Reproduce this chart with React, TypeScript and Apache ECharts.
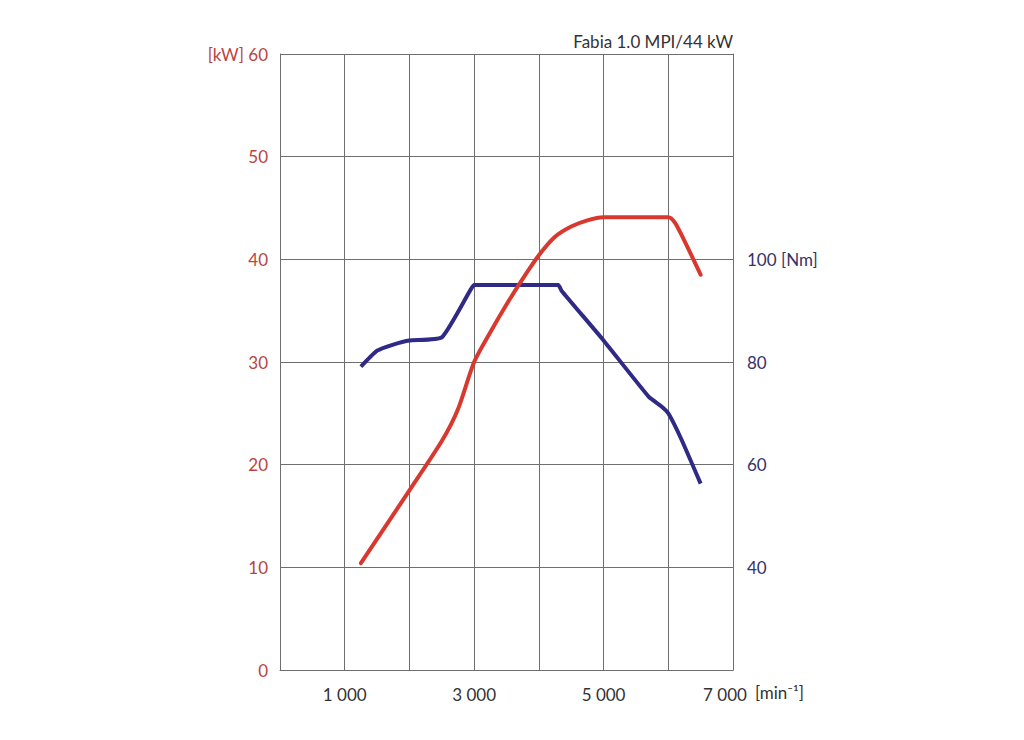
import React, { useEffect, useRef } from "react";
import * as echarts from "echarts";

const title = "Fabia 1.0 MPI/44 kW";
const xTicks = [1000, 3000, 5000, 7000];
const kwTicks = [0, 10, 20, 30, 40, 50, 60];
const nmTicks = [40, 60, 80, 100];

const powerRpm = [1250, 2000, 2500, 2750, 3000, 3250, 3500, 3750, 4000, 4250, 4500, 4750, 5000, 6000, 6100, 6250, 6500];
const powerKw = [10.4, 17.5, 22.3, 25.4, 30.0, 32.9, 35.6, 38.1, 40.4, 42.2, 43.2, 43.8, 44.1, 44.1, 43.6, 41.8, 38.5];

const torqueRpm = [1250, 1500, 1750, 2000, 2500, 2950, 3000, 4300, 4350, 5000, 5700, 5900, 6000, 6200, 6500];
const torqueNm = [79.1, 82.2, 83.4, 84.2, 84.8, 94.2, 95.0, 95.0, 93.9, 84.2, 73.2, 71.3, 70.0, 65.0, 56.3];

const RED = "#d8392f";
const BLUE = "#2f2a85";
const FONT = "Lato";

function fmtThousands(v: number): string {
  const s = String(v);
  return s.length > 3 ? s.slice(0, s.length - 3) + " " + s.slice(-3) : s;
}

export default function App() {
  const ref = useRef<HTMLDivElement>(null);
  useEffect(() => {
    if (!ref.current) return;
    const chart = echarts.init(ref.current, null, { renderer: "svg" });
    const gridColor = "#6e6e6e";
    chart.setOption({
      animation: false,
      backgroundColor: "#ffffff",
      textStyle: { fontFamily: FONT },
      title: {
        text: title,
        right: 291,
        top: 33,
        padding: 0,
        textStyle: { fontFamily: FONT, fontSize: 17, fontWeight: "normal", color: "#333333" },
      },
      grid: { left: 280, right: 291, top: 54, bottom: 70, containLabel: false },
      xAxis: {
        type: "value",
        min: 0,
        max: 7000,
        interval: 1000,
        axisLine: { show: true, lineStyle: { color: gridColor, width: 1 } },
        axisTick: { show: false },
        splitLine: { show: true, lineStyle: { color: gridColor, width: 1 } },
        axisLabel: {
          margin: 16,
          fontFamily: FONT,
          fontSize: 17,
          color: "#333333",
          formatter: (v: number) => {
            if (!xTicks.includes(v)) return "";
            if (v === 7000) return "{r|" + fmtThousands(v) + "}";
            return fmtThousands(v);
          },
          rich: {
            r: { fontFamily: FONT, fontSize: 17, color: "#333333", padding: [0, 16, 0, 0] },
          },
        },
      },
      yAxis: [
        {
          type: "value",
          min: 0,
          max: 60,
          interval: 10,
          position: "left",
          axisLine: { show: true, lineStyle: { color: gridColor, width: 1 } },
          axisTick: { show: false },
          splitLine: { show: true, lineStyle: { color: gridColor, width: 1 } },
          axisLabel: {
            margin: 12,
            fontFamily: FONT,
            fontSize: 17,
            color: "#b9453f",
            formatter: (v: number) => {
              if (!kwTicks.includes(v)) return "";
              return v === 60 ? "[kW] " + v : String(v);
            },
          },
        },
        {
          type: "value",
          min: 20,
          max: 140,
          interval: 20,
          position: "right",
          axisLine: { show: true, lineStyle: { color: gridColor, width: 1 } },
          axisTick: { show: false },
          splitLine: { show: false },
          axisLabel: {
            margin: 14,
            fontFamily: FONT,
            fontSize: 17,
            color: "#35336b",
            formatter: (v: number) => {
              if (!nmTicks.includes(v)) return "";
              return v === 100 ? v + " [Nm]" : String(v);
            },
          },
        },
      ],
      graphic: [
        {
          type: "text",
          left: 755,
          top: 684,
          style: { text: "[min⁻¹]", fontFamily: FONT, fontSize: 17, fill: "#333333" },
        },
      ],
      series: [
        {
          type: "line",
          name: "Power",
          yAxisIndex: 0,
          data: powerRpm.map((r, i) => [r, powerKw[i]]),
          showSymbol: false,
          smooth: 0.25,
          lineStyle: { color: RED, width: 4, cap: "round", join: "round" },
          itemStyle: { color: RED },
          z: 3,
        },
        {
          type: "line",
          name: "Torque",
          yAxisIndex: 1,
          data: torqueRpm.map((r, i) => [r, torqueNm[i]]),
          showSymbol: false,
          smooth: 0.15,
          lineStyle: { color: BLUE, width: 4, cap: "butt", join: "round" },
          itemStyle: { color: BLUE },
          z: 2,
        },
      ],
    });
    return () => chart.dispose();
  }, []);
  return (
    <div
      ref={ref}
      style={{ position: "fixed", left: 0, top: 0, width: 1024, height: 740, background: "#fff" }}
    />
  );
}
